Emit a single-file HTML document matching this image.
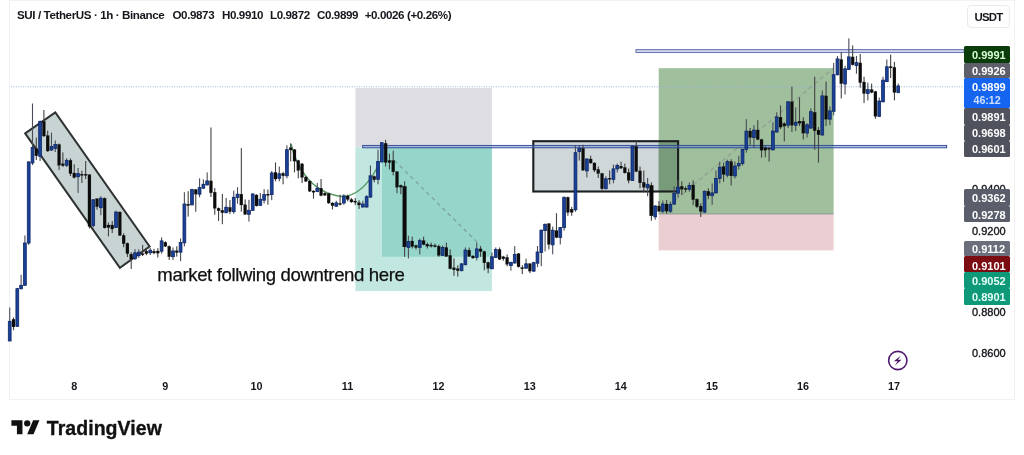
<!DOCTYPE html>
<html><head><meta charset="utf-8"><title>SUI / TetherUS</title>
<style>
html,body{margin:0;padding:0;background:#fff;}
body{width:1024px;height:455px;position:relative;overflow:hidden;font-family:"Liberation Sans",sans-serif;color:#131722;}
#frame{position:absolute;left:9.4px;top:-0.5px;width:1005.8px;height:400.2px;border:1.6px solid #f2f2f3;box-sizing:border-box;}
#chart{position:absolute;left:0;top:0;width:1024px;height:455px;}
#title{position:absolute;left:17px;top:7.2px;height:16px;line-height:16px;font-size:11.6px;letter-spacing:-0.4px;font-weight:bold;white-space:nowrap;color:#15171c;}
#title span{position:absolute;top:0;white-space:nowrap;}
.pl{position:absolute;left:964px;width:46px;box-sizing:border-box;padding-left:8px;font-size:11px;font-weight:bold;text-align:left;border-radius:1.5px;overflow:hidden;}
.pp{position:absolute;left:964px;width:46px;box-sizing:border-box;padding-left:8px;height:16px;line-height:16px;font-size:11px;text-align:left;color:#15171c;font-weight:normal;-webkit-text-stroke:0.35px #15171c;}
.dt{position:absolute;top:378px;width:40px;height:16px;line-height:16px;text-align:center;font-size:10.8px;font-weight:bold;color:#15171c;}
#usdt{position:absolute;left:967px;top:5px;width:43px;height:23px;box-sizing:border-box;border:1px solid #e9e9ee;border-radius:4px;font-size:11.4px;letter-spacing:-0.8px;font-weight:bold;text-align:center;line-height:22.4px;color:#15171c;background:#fff;}
#note{position:absolute;left:157.3px;top:263.2px;-webkit-text-stroke:0.25px #101010;font-size:18.6px;letter-spacing:-0.37px;line-height:24px;white-space:nowrap;color:#101010;}
#brand{position:absolute;left:46.8px;top:415.8px;font-size:19.5px;font-weight:bold;line-height:24px;white-space:nowrap;color:#111;letter-spacing:0.05px;-webkit-text-stroke:0.35px #111;}
#now{position:absolute;left:964px;top:78.2px;width:46px;height:30.1px;box-sizing:border-box;padding-left:8px;background:#1565f0;color:#fff;font-size:11px;font-weight:bold;text-align:left;border-radius:1.5px;}
#now div{height:14.2px;line-height:18.9px;}
#now div+div{color:#cfe0ff;font-weight:bold;font-size:10.6px;padding-left:1.5px;line-height:17.5px}
</style></head><body>
<div id="frame"></div>
<svg id="chart" width="1024" height="455" viewBox="0 0 1024 455">
<!-- short position tool -->
<rect x="355.4" y="88" width="136.5" height="59.3" fill="#dedee2"/>
<rect x="355.4" y="147.3" width="136.5" height="143.8" fill="#c2e7e0"/>
<rect x="382" y="147.3" width="109.9" height="109.5" fill="#96d6ca"/>
<!-- long position tool -->
<rect x="658.7" y="68.2" width="174.9" height="145.7" fill="#9fbf9d"/>
<rect x="658.7" y="213.9" width="174.9" height="36.5" fill="#eaced1"/>
<line x1="658.7" y1="213.9" x2="833.6" y2="213.9" stroke="#87988a" stroke-width="1"/>
<!-- dotted current price line -->
<line x1="11" y1="86.8" x2="963" y2="86.8" stroke="#9db4d8" stroke-width="1" stroke-dasharray="1 1.4"/>
<!-- channel -->
<polygon points="25.2,133.4 55.3,112.4 149.6,246.5 119.9,267.8" fill="rgba(140,162,162,0.48)" stroke="#2e3232" stroke-width="2" stroke-linejoin="miter"/>
<!-- box -->
<rect x="533.3" y="141.2" width="144.8" height="50.3" fill="rgba(140,160,165,0.42)" stroke="none"/>
<rect x="658.7" y="141.2" width="19.4" height="50.3" fill="#789c7a"/>
<rect x="533.3" y="141.2" width="144.8" height="50.3" fill="none" stroke="#1c1f1f" stroke-width="2.1"/>
<!-- dashed lines -->
<line x1="394.4" y1="160.5" x2="480" y2="245" stroke="#78a59c" stroke-width="1.3" stroke-dasharray="4 3.5"/>
<line x1="658.7" y1="213.8" x2="833.5" y2="68.2" stroke="#93a393" stroke-width="1.4" stroke-dasharray="4.5 3"/>
<!-- green arc -->
<path d="M291,144 C297,170 313,193 342,196.5 C355,196.5 368,186 378,166" fill="none" stroke="#5c9a68" stroke-width="1.5"/>
<!-- horizontal lines -->
<rect x="362.7" y="145.4" width="584" height="2.4" fill="rgba(100,130,220,0.45)" stroke="#2a4690" stroke-width="0.9"/>
<rect x="636" y="49.6" width="328" height="2.9" fill="#d3d8ee" stroke="#6c7ab4" stroke-width="1.1"/>
<rect x="9.16" y="307.5" width="1.1" height="33.5" fill="#4a4e5a"/>
<rect x="8.31" y="321.3" width="2.8" height="19.7" fill="#1a4198" stroke="#0f2766" stroke-width="0.8"/>
<rect x="12.96" y="317.4" width="1.1" height="12.8" fill="#444"/>
<rect x="12.01" y="319.3" width="3.0" height="7.6" fill="#0c0c0c" stroke="#0c0c0c" stroke-width="0.2"/>
<rect x="16.76" y="288.0" width="1.1" height="39.0" fill="#4a4e5a"/>
<rect x="15.91" y="288.7" width="2.8" height="37.6" fill="#1a4198" stroke="#0f2766" stroke-width="0.8"/>
<rect x="20.56" y="274.8" width="1.1" height="14.7" fill="#4a4e5a"/>
<rect x="19.71" y="285.3" width="2.8" height="3.4" fill="#1a4198" stroke="#0f2766" stroke-width="0.8"/>
<rect x="24.35" y="235.4" width="1.1" height="50.4" fill="#4a4e5a"/>
<rect x="23.50" y="243.0" width="2.8" height="42.3" fill="#1a4198" stroke="#0f2766" stroke-width="0.8"/>
<rect x="28.15" y="161.0" width="1.1" height="84.0" fill="#4a4e5a"/>
<rect x="27.30" y="162.0" width="2.8" height="81.0" fill="#1a4198" stroke="#0f2766" stroke-width="0.8"/>
<rect x="31.95" y="103.5" width="1.1" height="61.5" fill="#4a4e5a"/>
<rect x="31.10" y="147.5" width="2.8" height="15.5" fill="#1a4198" stroke="#0f2766" stroke-width="0.8"/>
<rect x="35.74" y="137.6" width="1.1" height="22.4" fill="#444"/>
<rect x="34.79" y="148.5" width="3.0" height="7.3" fill="#0c0c0c" stroke="#0c0c0c" stroke-width="0.2"/>
<rect x="39.54" y="120.5" width="1.1" height="40.5" fill="#4a4e5a"/>
<rect x="38.69" y="121.4" width="2.8" height="35.0" fill="#1a4198" stroke="#0f2766" stroke-width="0.8"/>
<rect x="43.34" y="110.0" width="1.1" height="27.0" fill="#444"/>
<rect x="42.39" y="121.4" width="3.0" height="14.6" fill="#0c0c0c" stroke="#0c0c0c" stroke-width="0.2"/>
<rect x="47.14" y="130.6" width="1.1" height="21.4" fill="#444"/>
<rect x="46.19" y="135.6" width="3.0" height="15.4" fill="#0c0c0c" stroke="#0c0c0c" stroke-width="0.2"/>
<rect x="50.93" y="132.6" width="1.1" height="18.4" fill="#4a4e5a"/>
<rect x="50.08" y="146.5" width="2.8" height="3.5" fill="#1a4198" stroke="#0f2766" stroke-width="0.8"/>
<rect x="54.73" y="140.5" width="1.1" height="11.5" fill="#4a4e5a"/>
<rect x="53.88" y="144.5" width="2.8" height="4.0" fill="#1a4198" stroke="#0f2766" stroke-width="0.8"/>
<rect x="58.53" y="143.5" width="1.1" height="26.5" fill="#444"/>
<rect x="57.58" y="144.5" width="3.0" height="20.8" fill="#0c0c0c" stroke="#0c0c0c" stroke-width="0.2"/>
<rect x="62.32" y="152.4" width="1.1" height="14.6" fill="#444"/>
<rect x="61.37" y="163.8" width="3.0" height="1.8" fill="#0c0c0c" stroke="#0c0c0c" stroke-width="0.2"/>
<rect x="66.12" y="158.3" width="1.1" height="8.7" fill="#4a4e5a"/>
<rect x="65.27" y="160.3" width="2.8" height="5.0" fill="#1a4198" stroke="#0f2766" stroke-width="0.8"/>
<rect x="69.92" y="158.3" width="1.1" height="17.7" fill="#444"/>
<rect x="68.97" y="160.3" width="3.0" height="13.3" fill="#0c0c0c" stroke="#0c0c0c" stroke-width="0.2"/>
<rect x="73.71" y="164.3" width="1.1" height="14.2" fill="#444"/>
<rect x="72.76" y="173.0" width="3.0" height="4.5" fill="#0c0c0c" stroke="#0c0c0c" stroke-width="0.2"/>
<rect x="77.51" y="168.0" width="1.1" height="24.9" fill="#4a4e5a"/>
<rect x="76.66" y="173.6" width="2.8" height="3.1" fill="#1a4198" stroke="#0f2766" stroke-width="0.8"/>
<rect x="81.31" y="170.8" width="1.1" height="12.2" fill="#444"/>
<rect x="80.36" y="174.2" width="3.0" height="1.2" fill="#0c0c0c" stroke="#0c0c0c" stroke-width="0.2"/>
<rect x="85.11" y="161.0" width="1.1" height="18.0" fill="#444"/>
<rect x="84.16" y="174.2" width="3.0" height="1.2" fill="#0c0c0c" stroke="#0c0c0c" stroke-width="0.2"/>
<rect x="88.90" y="174.0" width="1.1" height="54.5" fill="#444"/>
<rect x="87.95" y="174.8" width="3.0" height="51.7" fill="#0c0c0c" stroke="#0c0c0c" stroke-width="0.2"/>
<rect x="92.70" y="199.0" width="1.1" height="28.5" fill="#4a4e5a"/>
<rect x="91.85" y="199.8" width="2.8" height="25.7" fill="#1a4198" stroke="#0f2766" stroke-width="0.8"/>
<rect x="96.50" y="198.0" width="1.1" height="11.7" fill="#444"/>
<rect x="95.55" y="198.8" width="3.0" height="7.9" fill="#0c0c0c" stroke="#0c0c0c" stroke-width="0.2"/>
<rect x="100.29" y="196.2" width="1.1" height="19.0" fill="#4a4e5a"/>
<rect x="99.44" y="198.2" width="2.8" height="9.5" fill="#1a4198" stroke="#0f2766" stroke-width="0.8"/>
<rect x="104.09" y="197.5" width="1.1" height="31.0" fill="#444"/>
<rect x="103.14" y="198.2" width="3.0" height="29.7" fill="#0c0c0c" stroke="#0c0c0c" stroke-width="0.2"/>
<rect x="107.89" y="222.5" width="1.1" height="13.9" fill="#444"/>
<rect x="106.94" y="225.0" width="3.0" height="2.5" fill="#0c0c0c" stroke="#0c0c0c" stroke-width="0.2"/>
<rect x="111.68" y="221.0" width="1.1" height="12.0" fill="#444"/>
<rect x="110.73" y="225.0" width="3.0" height="4.0" fill="#0c0c0c" stroke="#0c0c0c" stroke-width="0.2"/>
<rect x="115.48" y="210.7" width="1.1" height="17.3" fill="#4a4e5a"/>
<rect x="114.63" y="212.0" width="2.8" height="15.5" fill="#1a4198" stroke="#0f2766" stroke-width="0.8"/>
<rect x="119.28" y="211.5" width="1.1" height="24.5" fill="#444"/>
<rect x="118.33" y="212.0" width="3.0" height="23.4" fill="#0c0c0c" stroke="#0c0c0c" stroke-width="0.2"/>
<rect x="123.08" y="233.4" width="1.1" height="13.8" fill="#444"/>
<rect x="122.12" y="235.4" width="3.0" height="8.3" fill="#0c0c0c" stroke="#0c0c0c" stroke-width="0.2"/>
<rect x="126.87" y="242.5" width="1.1" height="14.5" fill="#444"/>
<rect x="125.92" y="243.3" width="3.0" height="10.3" fill="#0c0c0c" stroke="#0c0c0c" stroke-width="0.2"/>
<rect x="130.67" y="252.2" width="1.1" height="16.8" fill="#444"/>
<rect x="129.72" y="254.2" width="3.0" height="4.8" fill="#0c0c0c" stroke="#0c0c0c" stroke-width="0.2"/>
<rect x="134.47" y="249.2" width="1.1" height="10.8" fill="#4a4e5a"/>
<rect x="133.62" y="252.8" width="2.8" height="5.9" fill="#1a4198" stroke="#0f2766" stroke-width="0.8"/>
<rect x="138.26" y="249.2" width="1.1" height="8.9" fill="#4a4e5a"/>
<rect x="137.41" y="252.2" width="2.8" height="3.4" fill="#1a4198" stroke="#0f2766" stroke-width="0.8"/>
<rect x="142.06" y="244.9" width="1.1" height="11.1" fill="#444"/>
<rect x="141.11" y="253.6" width="3.0" height="1.2" fill="#0c0c0c" stroke="#0c0c0c" stroke-width="0.2"/>
<rect x="145.86" y="248.2" width="1.1" height="7.0" fill="#444"/>
<rect x="144.91" y="251.2" width="3.0" height="2.4" fill="#0c0c0c" stroke="#0c0c0c" stroke-width="0.2"/>
<rect x="149.65" y="248.0" width="1.1" height="7.0" fill="#4a4e5a"/>
<rect x="148.80" y="250.2" width="2.8" height="2.6" fill="#1a4198" stroke="#0f2766" stroke-width="0.8"/>
<rect x="153.45" y="248.8" width="1.1" height="5.4" fill="#444"/>
<rect x="152.50" y="251.2" width="3.0" height="1.8" fill="#0c0c0c" stroke="#0c0c0c" stroke-width="0.2"/>
<rect x="157.25" y="248.2" width="1.1" height="9.3" fill="#444"/>
<rect x="156.30" y="251.0" width="3.0" height="2.2" fill="#0c0c0c" stroke="#0c0c0c" stroke-width="0.2"/>
<rect x="161.04" y="237.4" width="1.1" height="16.2" fill="#4a4e5a"/>
<rect x="160.19" y="240.9" width="2.8" height="10.3" fill="#1a4198" stroke="#0f2766" stroke-width="0.8"/>
<rect x="164.84" y="241.3" width="1.1" height="5.7" fill="#444"/>
<rect x="163.89" y="242.3" width="3.0" height="4.0" fill="#0c0c0c" stroke="#0c0c0c" stroke-width="0.2"/>
<rect x="168.64" y="245.5" width="1.1" height="14.5" fill="#444"/>
<rect x="167.69" y="246.3" width="3.0" height="10.4" fill="#0c0c0c" stroke="#0c0c0c" stroke-width="0.2"/>
<rect x="172.44" y="247.5" width="1.1" height="12.5" fill="#4a4e5a"/>
<rect x="171.59" y="251.0" width="2.8" height="5.7" fill="#1a4198" stroke="#0f2766" stroke-width="0.8"/>
<rect x="176.23" y="246.3" width="1.1" height="10.3" fill="#444"/>
<rect x="175.28" y="250.8" width="3.0" height="1.8" fill="#0c0c0c" stroke="#0c0c0c" stroke-width="0.2"/>
<rect x="180.03" y="238.4" width="1.1" height="22.7" fill="#4a4e5a"/>
<rect x="179.18" y="242.4" width="2.8" height="9.8" fill="#1a4198" stroke="#0f2766" stroke-width="0.8"/>
<rect x="183.83" y="192.2" width="1.1" height="54.1" fill="#4a4e5a"/>
<rect x="182.98" y="204.0" width="2.8" height="38.8" fill="#1a4198" stroke="#0f2766" stroke-width="0.8"/>
<rect x="187.62" y="191.2" width="1.1" height="25.4" fill="#444"/>
<rect x="186.67" y="204.2" width="3.0" height="1.4" fill="#0c0c0c" stroke="#0c0c0c" stroke-width="0.2"/>
<rect x="191.42" y="188.8" width="1.1" height="16.7" fill="#4a4e5a"/>
<rect x="190.57" y="189.6" width="2.8" height="15.2" fill="#1a4198" stroke="#0f2766" stroke-width="0.8"/>
<rect x="195.22" y="189.0" width="1.1" height="22.7" fill="#444"/>
<rect x="194.27" y="189.6" width="3.0" height="4.6" fill="#0c0c0c" stroke="#0c0c0c" stroke-width="0.2"/>
<rect x="199.01" y="178.3" width="1.1" height="19.0" fill="#4a4e5a"/>
<rect x="198.16" y="187.6" width="2.8" height="6.6" fill="#1a4198" stroke="#0f2766" stroke-width="0.8"/>
<rect x="202.81" y="179.3" width="1.1" height="9.7" fill="#4a4e5a"/>
<rect x="201.96" y="184.3" width="2.8" height="3.9" fill="#1a4198" stroke="#0f2766" stroke-width="0.8"/>
<rect x="206.61" y="172.4" width="1.1" height="13.1" fill="#4a4e5a"/>
<rect x="205.76" y="180.9" width="2.8" height="4.0" fill="#1a4198" stroke="#0f2766" stroke-width="0.8"/>
<rect x="210.41" y="127.5" width="1.1" height="69.5" fill="#444"/>
<rect x="209.46" y="180.9" width="3.0" height="11.9" fill="#0c0c0c" stroke="#0c0c0c" stroke-width="0.2"/>
<rect x="214.20" y="188.0" width="1.1" height="26.7" fill="#444"/>
<rect x="213.25" y="192.2" width="3.0" height="16.1" fill="#0c0c0c" stroke="#0c0c0c" stroke-width="0.2"/>
<rect x="218.00" y="207.5" width="1.1" height="13.5" fill="#444"/>
<rect x="217.05" y="208.3" width="3.0" height="2.4" fill="#0c0c0c" stroke="#0c0c0c" stroke-width="0.2"/>
<rect x="221.80" y="193.9" width="1.1" height="30.3" fill="#444"/>
<rect x="220.85" y="210.3" width="3.0" height="2.4" fill="#0c0c0c" stroke="#0c0c0c" stroke-width="0.2"/>
<rect x="225.59" y="197.9" width="1.1" height="15.4" fill="#4a4e5a"/>
<rect x="224.74" y="207.2" width="2.8" height="5.5" fill="#1a4198" stroke="#0f2766" stroke-width="0.8"/>
<rect x="229.39" y="200.0" width="1.1" height="14.0" fill="#444"/>
<rect x="228.44" y="207.3" width="3.0" height="4.4" fill="#0c0c0c" stroke="#0c0c0c" stroke-width="0.2"/>
<rect x="233.19" y="190.6" width="1.1" height="23.1" fill="#4a4e5a"/>
<rect x="232.34" y="197.3" width="2.8" height="14.4" fill="#1a4198" stroke="#0f2766" stroke-width="0.8"/>
<rect x="236.98" y="187.2" width="1.1" height="16.6" fill="#4a4e5a"/>
<rect x="236.13" y="194.2" width="2.8" height="3.3" fill="#1a4198" stroke="#0f2766" stroke-width="0.8"/>
<rect x="240.78" y="148.1" width="1.1" height="63.6" fill="#444"/>
<rect x="239.83" y="194.2" width="3.0" height="10.8" fill="#0c0c0c" stroke="#0c0c0c" stroke-width="0.2"/>
<rect x="244.58" y="199.4" width="1.1" height="15.6" fill="#444"/>
<rect x="243.63" y="204.8" width="3.0" height="9.5" fill="#0c0c0c" stroke="#0c0c0c" stroke-width="0.2"/>
<rect x="248.38" y="199.8" width="1.1" height="21.8" fill="#4a4e5a"/>
<rect x="247.53" y="210.3" width="2.8" height="4.0" fill="#1a4198" stroke="#0f2766" stroke-width="0.8"/>
<rect x="252.17" y="193.3" width="1.1" height="17.7" fill="#4a4e5a"/>
<rect x="251.32" y="194.0" width="2.8" height="16.3" fill="#1a4198" stroke="#0f2766" stroke-width="0.8"/>
<rect x="255.97" y="194.2" width="1.1" height="12.3" fill="#444"/>
<rect x="255.02" y="195.0" width="3.0" height="10.9" fill="#0c0c0c" stroke="#0c0c0c" stroke-width="0.2"/>
<rect x="259.77" y="193.0" width="1.1" height="13.0" fill="#4a4e5a"/>
<rect x="258.92" y="199.3" width="2.8" height="6.0" fill="#1a4198" stroke="#0f2766" stroke-width="0.8"/>
<rect x="263.56" y="189.1" width="1.1" height="14.3" fill="#4a4e5a"/>
<rect x="262.71" y="194.6" width="2.8" height="5.6" fill="#1a4198" stroke="#0f2766" stroke-width="0.8"/>
<rect x="267.36" y="189.5" width="1.1" height="15.2" fill="#444"/>
<rect x="266.41" y="194.1" width="3.0" height="1.3" fill="#0c0c0c" stroke="#0c0c0c" stroke-width="0.2"/>
<rect x="271.16" y="171.0" width="1.1" height="29.2" fill="#4a4e5a"/>
<rect x="270.31" y="173.0" width="2.8" height="21.6" fill="#1a4198" stroke="#0f2766" stroke-width="0.8"/>
<rect x="274.95" y="162.5" width="1.1" height="18.8" fill="#444"/>
<rect x="274.00" y="172.4" width="3.0" height="6.6" fill="#0c0c0c" stroke="#0c0c0c" stroke-width="0.2"/>
<rect x="278.75" y="166.5" width="1.1" height="14.8" fill="#4a4e5a"/>
<rect x="277.90" y="173.8" width="2.8" height="4.5" fill="#1a4198" stroke="#0f2766" stroke-width="0.8"/>
<rect x="282.55" y="171.8" width="1.1" height="12.5" fill="#444"/>
<rect x="281.60" y="173.4" width="3.0" height="2.4" fill="#0c0c0c" stroke="#0c0c0c" stroke-width="0.2"/>
<rect x="286.35" y="145.3" width="1.1" height="33.0" fill="#4a4e5a"/>
<rect x="285.50" y="149.7" width="2.8" height="26.1" fill="#1a4198" stroke="#0f2766" stroke-width="0.8"/>
<rect x="290.14" y="143.3" width="1.1" height="18.2" fill="#444"/>
<rect x="289.19" y="147.7" width="3.0" height="2.3" fill="#0c0c0c" stroke="#0c0c0c" stroke-width="0.2"/>
<rect x="293.94" y="149.0" width="1.1" height="23.4" fill="#444"/>
<rect x="292.99" y="149.7" width="3.0" height="11.4" fill="#0c0c0c" stroke="#0c0c0c" stroke-width="0.2"/>
<rect x="297.74" y="159.8" width="1.1" height="18.5" fill="#444"/>
<rect x="296.79" y="160.5" width="3.0" height="9.9" fill="#0c0c0c" stroke="#0c0c0c" stroke-width="0.2"/>
<rect x="301.53" y="163.0" width="1.1" height="20.0" fill="#444"/>
<rect x="300.58" y="163.9" width="3.0" height="13.5" fill="#0c0c0c" stroke="#0c0c0c" stroke-width="0.2"/>
<rect x="305.33" y="176.2" width="1.1" height="5.8" fill="#444"/>
<rect x="304.38" y="177.0" width="3.0" height="4.3" fill="#0c0c0c" stroke="#0c0c0c" stroke-width="0.2"/>
<rect x="309.13" y="180.3" width="1.1" height="11.7" fill="#444"/>
<rect x="308.18" y="181.0" width="3.0" height="10.2" fill="#0c0c0c" stroke="#0c0c0c" stroke-width="0.2"/>
<rect x="312.93" y="190.2" width="1.1" height="8.5" fill="#444"/>
<rect x="311.98" y="191.0" width="3.0" height="1.3" fill="#0c0c0c" stroke="#0c0c0c" stroke-width="0.2"/>
<rect x="316.72" y="183.0" width="1.1" height="9.2" fill="#4a4e5a"/>
<rect x="315.87" y="188.2" width="2.8" height="3.4" fill="#1a4198" stroke="#0f2766" stroke-width="0.8"/>
<rect x="320.52" y="179.0" width="1.1" height="17.3" fill="#444"/>
<rect x="319.57" y="188.2" width="3.0" height="7.4" fill="#0c0c0c" stroke="#0c0c0c" stroke-width="0.2"/>
<rect x="324.32" y="192.2" width="1.1" height="3.8" fill="#444"/>
<rect x="323.37" y="193.2" width="3.0" height="2.0" fill="#0c0c0c" stroke="#0c0c0c" stroke-width="0.2"/>
<rect x="328.11" y="192.8" width="1.1" height="11.0" fill="#444"/>
<rect x="327.16" y="193.6" width="3.0" height="9.4" fill="#0c0c0c" stroke="#0c0c0c" stroke-width="0.2"/>
<rect x="331.91" y="202.2" width="1.1" height="7.2" fill="#444"/>
<rect x="330.96" y="203.0" width="3.0" height="2.6" fill="#0c0c0c" stroke="#0c0c0c" stroke-width="0.2"/>
<rect x="335.71" y="200.7" width="1.1" height="6.3" fill="#4a4e5a"/>
<rect x="334.86" y="202.9" width="2.8" height="3.3" fill="#1a4198" stroke="#0f2766" stroke-width="0.8"/>
<rect x="339.50" y="194.8" width="1.1" height="10.6" fill="#444"/>
<rect x="338.55" y="203.4" width="3.0" height="1.2" fill="#0c0c0c" stroke="#0c0c0c" stroke-width="0.2"/>
<rect x="343.30" y="194.2" width="1.1" height="10.5" fill="#4a4e5a"/>
<rect x="342.45" y="196.0" width="2.8" height="7.0" fill="#1a4198" stroke="#0f2766" stroke-width="0.8"/>
<rect x="347.10" y="194.8" width="1.1" height="6.5" fill="#444"/>
<rect x="346.15" y="196.0" width="3.0" height="3.4" fill="#0c0c0c" stroke="#0c0c0c" stroke-width="0.2"/>
<rect x="350.89" y="198.1" width="1.1" height="4.7" fill="#444"/>
<rect x="349.94" y="199.5" width="3.0" height="2.5" fill="#0c0c0c" stroke="#0c0c0c" stroke-width="0.2"/>
<rect x="354.69" y="198.0" width="1.1" height="7.0" fill="#444"/>
<rect x="353.74" y="201.0" width="3.0" height="1.2" fill="#0c0c0c" stroke="#0c0c0c" stroke-width="0.2"/>
<rect x="358.49" y="200.1" width="1.1" height="8.9" fill="#444"/>
<rect x="357.54" y="202.7" width="3.0" height="2.3" fill="#0c0c0c" stroke="#0c0c0c" stroke-width="0.2"/>
<rect x="362.29" y="200.7" width="1.1" height="6.9" fill="#4a4e5a"/>
<rect x="361.44" y="204.0" width="2.8" height="3.0" fill="#1a4198" stroke="#0f2766" stroke-width="0.8"/>
<rect x="366.08" y="195.2" width="1.1" height="12.4" fill="#4a4e5a"/>
<rect x="365.23" y="196.7" width="2.8" height="10.3" fill="#1a4198" stroke="#0f2766" stroke-width="0.8"/>
<rect x="369.88" y="165.5" width="1.1" height="32.3" fill="#4a4e5a"/>
<rect x="369.03" y="175.8" width="2.8" height="21.3" fill="#1a4198" stroke="#0f2766" stroke-width="0.8"/>
<rect x="373.68" y="175.6" width="1.1" height="6.7" fill="#444"/>
<rect x="372.73" y="176.4" width="3.0" height="3.3" fill="#0c0c0c" stroke="#0c0c0c" stroke-width="0.2"/>
<rect x="377.47" y="149.7" width="1.1" height="34.6" fill="#4a4e5a"/>
<rect x="376.62" y="161.5" width="2.8" height="17.8" fill="#1a4198" stroke="#0f2766" stroke-width="0.8"/>
<rect x="381.27" y="142.0" width="1.1" height="20.5" fill="#4a4e5a"/>
<rect x="380.42" y="142.7" width="2.8" height="19.2" fill="#1a4198" stroke="#0f2766" stroke-width="0.8"/>
<rect x="385.07" y="139.8" width="1.1" height="26.7" fill="#444"/>
<rect x="384.12" y="143.3" width="3.0" height="19.2" fill="#0c0c0c" stroke="#0c0c0c" stroke-width="0.2"/>
<rect x="388.87" y="153.6" width="1.1" height="15.8" fill="#444"/>
<rect x="387.92" y="160.5" width="3.0" height="2.0" fill="#0c0c0c" stroke="#0c0c0c" stroke-width="0.2"/>
<rect x="392.66" y="150.7" width="1.1" height="24.7" fill="#444"/>
<rect x="391.71" y="160.5" width="3.0" height="11.3" fill="#0c0c0c" stroke="#0c0c0c" stroke-width="0.2"/>
<rect x="396.46" y="171.0" width="1.1" height="22.2" fill="#444"/>
<rect x="395.51" y="171.8" width="3.0" height="15.4" fill="#0c0c0c" stroke="#0c0c0c" stroke-width="0.2"/>
<rect x="400.26" y="184.5" width="1.1" height="9.7" fill="#444"/>
<rect x="399.31" y="185.3" width="3.0" height="1.9" fill="#0c0c0c" stroke="#0c0c0c" stroke-width="0.2"/>
<rect x="404.05" y="181.3" width="1.1" height="75.5" fill="#444"/>
<rect x="402.70" y="186.3" width="3.8" height="60.6" fill="#0c0c0c" stroke="#0c0c0c" stroke-width="0.2"/>
<rect x="407.85" y="235.7" width="1.1" height="22.7" fill="#4a4e5a"/>
<rect x="407.00" y="241.6" width="2.8" height="5.9" fill="#1a4198" stroke="#0f2766" stroke-width="0.8"/>
<rect x="411.65" y="236.6" width="1.1" height="11.9" fill="#444"/>
<rect x="410.70" y="241.0" width="3.0" height="5.5" fill="#0c0c0c" stroke="#0c0c0c" stroke-width="0.2"/>
<rect x="415.44" y="244.5" width="1.1" height="5.0" fill="#444"/>
<rect x="414.49" y="245.5" width="3.0" height="2.0" fill="#0c0c0c" stroke="#0c0c0c" stroke-width="0.2"/>
<rect x="419.24" y="238.6" width="1.1" height="15.8" fill="#4a4e5a"/>
<rect x="418.39" y="240.6" width="2.8" height="6.9" fill="#1a4198" stroke="#0f2766" stroke-width="0.8"/>
<rect x="423.04" y="236.6" width="1.1" height="8.6" fill="#444"/>
<rect x="422.09" y="240.6" width="3.0" height="4.0" fill="#0c0c0c" stroke="#0c0c0c" stroke-width="0.2"/>
<rect x="426.83" y="242.6" width="1.1" height="5.9" fill="#444"/>
<rect x="425.88" y="244.2" width="3.0" height="1.9" fill="#0c0c0c" stroke="#0c0c0c" stroke-width="0.2"/>
<rect x="430.63" y="242.6" width="1.1" height="4.9" fill="#444"/>
<rect x="429.68" y="245.0" width="3.0" height="1.2" fill="#0c0c0c" stroke="#0c0c0c" stroke-width="0.2"/>
<rect x="434.43" y="243.6" width="1.1" height="3.9" fill="#444"/>
<rect x="433.48" y="245.5" width="3.0" height="1.2" fill="#0c0c0c" stroke="#0c0c0c" stroke-width="0.2"/>
<rect x="438.23" y="244.6" width="1.1" height="12.2" fill="#444"/>
<rect x="437.28" y="246.1" width="3.0" height="9.3" fill="#0c0c0c" stroke="#0c0c0c" stroke-width="0.2"/>
<rect x="442.02" y="245.5" width="1.1" height="10.5" fill="#4a4e5a"/>
<rect x="441.17" y="247.5" width="2.8" height="7.9" fill="#1a4198" stroke="#0f2766" stroke-width="0.8"/>
<rect x="445.82" y="242.6" width="1.1" height="14.4" fill="#444"/>
<rect x="444.87" y="247.5" width="3.0" height="8.9" fill="#0c0c0c" stroke="#0c0c0c" stroke-width="0.2"/>
<rect x="449.62" y="249.5" width="1.1" height="19.9" fill="#444"/>
<rect x="448.67" y="255.4" width="3.0" height="13.3" fill="#0c0c0c" stroke="#0c0c0c" stroke-width="0.2"/>
<rect x="453.41" y="258.4" width="1.1" height="17.4" fill="#444"/>
<rect x="452.46" y="267.9" width="3.0" height="2.0" fill="#0c0c0c" stroke="#0c0c0c" stroke-width="0.2"/>
<rect x="457.21" y="265.3" width="1.1" height="11.3" fill="#444"/>
<rect x="456.26" y="268.7" width="3.0" height="2.0" fill="#0c0c0c" stroke="#0c0c0c" stroke-width="0.2"/>
<rect x="461.01" y="263.0" width="1.1" height="8.3" fill="#4a4e5a"/>
<rect x="460.16" y="263.9" width="2.8" height="6.8" fill="#1a4198" stroke="#0f2766" stroke-width="0.8"/>
<rect x="464.81" y="247.5" width="1.1" height="17.8" fill="#4a4e5a"/>
<rect x="463.96" y="250.1" width="2.8" height="14.6" fill="#1a4198" stroke="#0f2766" stroke-width="0.8"/>
<rect x="468.60" y="247.5" width="1.1" height="9.5" fill="#444"/>
<rect x="467.65" y="250.1" width="3.0" height="6.3" fill="#0c0c0c" stroke="#0c0c0c" stroke-width="0.2"/>
<rect x="472.40" y="255.2" width="1.1" height="3.6" fill="#444"/>
<rect x="471.45" y="256.0" width="3.0" height="2.0" fill="#0c0c0c" stroke="#0c0c0c" stroke-width="0.2"/>
<rect x="476.20" y="242.6" width="1.1" height="17.8" fill="#4a4e5a"/>
<rect x="475.35" y="248.9" width="2.8" height="8.5" fill="#1a4198" stroke="#0f2766" stroke-width="0.8"/>
<rect x="479.99" y="246.1" width="1.1" height="10.7" fill="#444"/>
<rect x="479.04" y="248.9" width="3.0" height="2.6" fill="#0c0c0c" stroke="#0c0c0c" stroke-width="0.2"/>
<rect x="483.79" y="250.8" width="1.1" height="19.5" fill="#444"/>
<rect x="482.84" y="251.5" width="3.0" height="11.3" fill="#0c0c0c" stroke="#0c0c0c" stroke-width="0.2"/>
<rect x="487.59" y="261.6" width="1.1" height="11.6" fill="#444"/>
<rect x="486.64" y="262.4" width="3.0" height="5.9" fill="#0c0c0c" stroke="#0c0c0c" stroke-width="0.2"/>
<rect x="491.38" y="252.5" width="1.1" height="16.8" fill="#4a4e5a"/>
<rect x="490.53" y="256.8" width="2.8" height="11.9" fill="#1a4198" stroke="#0f2766" stroke-width="0.8"/>
<rect x="495.18" y="247.5" width="1.1" height="10.5" fill="#4a4e5a"/>
<rect x="494.33" y="249.5" width="2.8" height="7.9" fill="#1a4198" stroke="#0f2766" stroke-width="0.8"/>
<rect x="498.98" y="247.5" width="1.1" height="12.5" fill="#444"/>
<rect x="498.03" y="249.5" width="3.0" height="9.9" fill="#0c0c0c" stroke="#0c0c0c" stroke-width="0.2"/>
<rect x="502.77" y="255.8" width="1.1" height="5.0" fill="#444"/>
<rect x="501.82" y="256.8" width="3.0" height="2.0" fill="#0c0c0c" stroke="#0c0c0c" stroke-width="0.2"/>
<rect x="506.57" y="254.4" width="1.1" height="11.9" fill="#444"/>
<rect x="505.62" y="257.4" width="3.0" height="6.9" fill="#0c0c0c" stroke="#0c0c0c" stroke-width="0.2"/>
<rect x="510.37" y="261.6" width="1.1" height="9.1" fill="#4a4e5a"/>
<rect x="509.52" y="262.4" width="2.8" height="3.2" fill="#1a4198" stroke="#0f2766" stroke-width="0.8"/>
<rect x="514.17" y="246.1" width="1.1" height="17.5" fill="#4a4e5a"/>
<rect x="513.32" y="254.4" width="2.8" height="8.6" fill="#1a4198" stroke="#0f2766" stroke-width="0.8"/>
<rect x="517.96" y="253.0" width="1.1" height="14.5" fill="#444"/>
<rect x="517.01" y="253.7" width="3.0" height="13.1" fill="#0c0c0c" stroke="#0c0c0c" stroke-width="0.2"/>
<rect x="521.76" y="265.2" width="1.1" height="8.9" fill="#444"/>
<rect x="520.81" y="267.6" width="3.0" height="1.2" fill="#0c0c0c" stroke="#0c0c0c" stroke-width="0.2"/>
<rect x="525.56" y="258.7" width="1.1" height="10.3" fill="#4a4e5a"/>
<rect x="524.71" y="263.8" width="2.8" height="4.4" fill="#1a4198" stroke="#0f2766" stroke-width="0.8"/>
<rect x="529.35" y="263.0" width="1.1" height="10.1" fill="#444"/>
<rect x="528.40" y="263.8" width="3.0" height="7.3" fill="#0c0c0c" stroke="#0c0c0c" stroke-width="0.2"/>
<rect x="533.15" y="261.8" width="1.1" height="10.2" fill="#4a4e5a"/>
<rect x="532.30" y="262.6" width="2.8" height="8.5" fill="#1a4198" stroke="#0f2766" stroke-width="0.8"/>
<rect x="536.95" y="246.0" width="1.1" height="21.2" fill="#4a4e5a"/>
<rect x="536.10" y="252.0" width="2.8" height="11.2" fill="#1a4198" stroke="#0f2766" stroke-width="0.8"/>
<rect x="540.75" y="229.5" width="1.1" height="36.7" fill="#4a4e5a"/>
<rect x="539.90" y="230.2" width="2.8" height="22.2" fill="#1a4198" stroke="#0f2766" stroke-width="0.8"/>
<rect x="544.54" y="223.5" width="1.1" height="27.9" fill="#4a4e5a"/>
<rect x="543.69" y="224.3" width="2.8" height="6.3" fill="#1a4198" stroke="#0f2766" stroke-width="0.8"/>
<rect x="548.34" y="223.0" width="1.1" height="26.4" fill="#444"/>
<rect x="547.39" y="223.7" width="3.0" height="20.7" fill="#0c0c0c" stroke="#0c0c0c" stroke-width="0.2"/>
<rect x="552.14" y="226.6" width="1.1" height="27.7" fill="#4a4e5a"/>
<rect x="551.29" y="230.2" width="2.8" height="14.6" fill="#1a4198" stroke="#0f2766" stroke-width="0.8"/>
<rect x="555.93" y="213.2" width="1.1" height="25.0" fill="#444"/>
<rect x="554.98" y="230.6" width="3.0" height="6.9" fill="#0c0c0c" stroke="#0c0c0c" stroke-width="0.2"/>
<rect x="559.73" y="227.0" width="1.1" height="17.4" fill="#4a4e5a"/>
<rect x="558.88" y="227.6" width="2.8" height="9.9" fill="#1a4198" stroke="#0f2766" stroke-width="0.8"/>
<rect x="563.53" y="196.5" width="1.1" height="34.1" fill="#4a4e5a"/>
<rect x="562.68" y="197.3" width="2.8" height="30.3" fill="#1a4198" stroke="#0f2766" stroke-width="0.8"/>
<rect x="567.32" y="196.5" width="1.1" height="19.3" fill="#444"/>
<rect x="566.37" y="197.3" width="3.0" height="15.1" fill="#0c0c0c" stroke="#0c0c0c" stroke-width="0.2"/>
<rect x="571.12" y="206.9" width="1.1" height="8.9" fill="#444"/>
<rect x="570.17" y="209.2" width="3.0" height="3.2" fill="#0c0c0c" stroke="#0c0c0c" stroke-width="0.2"/>
<rect x="574.92" y="145.8" width="1.1" height="66.0" fill="#4a4e5a"/>
<rect x="574.07" y="152.7" width="2.8" height="57.1" fill="#1a4198" stroke="#0f2766" stroke-width="0.8"/>
<rect x="578.72" y="145.8" width="1.1" height="14.8" fill="#4a4e5a"/>
<rect x="577.87" y="148.3" width="2.8" height="3.4" fill="#1a4198" stroke="#0f2766" stroke-width="0.8"/>
<rect x="582.51" y="144.8" width="1.1" height="26.2" fill="#444"/>
<rect x="581.56" y="148.3" width="3.0" height="21.8" fill="#0c0c0c" stroke="#0c0c0c" stroke-width="0.2"/>
<rect x="586.31" y="158.2" width="1.1" height="19.2" fill="#4a4e5a"/>
<rect x="585.46" y="159.0" width="2.8" height="11.9" fill="#1a4198" stroke="#0f2766" stroke-width="0.8"/>
<rect x="590.11" y="155.7" width="1.1" height="8.1" fill="#444"/>
<rect x="589.16" y="159.0" width="3.0" height="4.0" fill="#0c0c0c" stroke="#0c0c0c" stroke-width="0.2"/>
<rect x="593.90" y="162.2" width="1.1" height="9.9" fill="#444"/>
<rect x="592.95" y="163.0" width="3.0" height="7.1" fill="#0c0c0c" stroke="#0c0c0c" stroke-width="0.2"/>
<rect x="597.70" y="166.5" width="1.1" height="11.5" fill="#444"/>
<rect x="596.75" y="169.5" width="3.0" height="4.0" fill="#0c0c0c" stroke="#0c0c0c" stroke-width="0.2"/>
<rect x="601.50" y="172.8" width="1.1" height="17.5" fill="#444"/>
<rect x="600.55" y="173.5" width="3.0" height="15.2" fill="#0c0c0c" stroke="#0c0c0c" stroke-width="0.2"/>
<rect x="605.29" y="176.4" width="1.1" height="12.9" fill="#4a4e5a"/>
<rect x="604.44" y="178.8" width="2.8" height="9.9" fill="#1a4198" stroke="#0f2766" stroke-width="0.8"/>
<rect x="609.09" y="170.5" width="1.1" height="13.8" fill="#444"/>
<rect x="608.14" y="178.2" width="3.0" height="1.2" fill="#0c0c0c" stroke="#0c0c0c" stroke-width="0.2"/>
<rect x="612.89" y="164.6" width="1.1" height="18.7" fill="#4a4e5a"/>
<rect x="612.04" y="168.9" width="2.8" height="10.5" fill="#1a4198" stroke="#0f2766" stroke-width="0.8"/>
<rect x="616.69" y="163.6" width="1.1" height="8.9" fill="#4a4e5a"/>
<rect x="615.84" y="165.5" width="2.8" height="3.4" fill="#1a4198" stroke="#0f2766" stroke-width="0.8"/>
<rect x="620.48" y="161.6" width="1.1" height="7.4" fill="#444"/>
<rect x="619.53" y="166.1" width="3.0" height="2.0" fill="#0c0c0c" stroke="#0c0c0c" stroke-width="0.2"/>
<rect x="624.28" y="163.6" width="1.1" height="10.0" fill="#444"/>
<rect x="623.33" y="167.5" width="3.0" height="5.4" fill="#0c0c0c" stroke="#0c0c0c" stroke-width="0.2"/>
<rect x="628.08" y="168.5" width="1.1" height="14.8" fill="#444"/>
<rect x="627.13" y="172.5" width="3.0" height="7.9" fill="#0c0c0c" stroke="#0c0c0c" stroke-width="0.2"/>
<rect x="631.87" y="145.6" width="1.1" height="35.4" fill="#4a4e5a"/>
<rect x="631.02" y="146.4" width="2.8" height="34.0" fill="#1a4198" stroke="#0f2766" stroke-width="0.8"/>
<rect x="635.67" y="140.8" width="1.1" height="31.4" fill="#444"/>
<rect x="634.72" y="146.4" width="3.0" height="25.1" fill="#0c0c0c" stroke="#0c0c0c" stroke-width="0.2"/>
<rect x="639.47" y="166.5" width="1.1" height="21.8" fill="#444"/>
<rect x="638.52" y="170.9" width="3.0" height="11.9" fill="#0c0c0c" stroke="#0c0c0c" stroke-width="0.2"/>
<rect x="643.26" y="170.5" width="1.1" height="21.7" fill="#444"/>
<rect x="642.31" y="182.4" width="3.0" height="4.9" fill="#0c0c0c" stroke="#0c0c0c" stroke-width="0.2"/>
<rect x="647.06" y="178.0" width="1.1" height="18.2" fill="#4a4e5a"/>
<rect x="646.21" y="184.3" width="2.8" height="3.6" fill="#1a4198" stroke="#0f2766" stroke-width="0.8"/>
<rect x="650.86" y="182.4" width="1.1" height="38.3" fill="#444"/>
<rect x="649.51" y="185.3" width="3.8" height="30.5" fill="#0c0c0c" stroke="#0c0c0c" stroke-width="0.2"/>
<rect x="654.66" y="205.2" width="1.1" height="14.5" fill="#4a4e5a"/>
<rect x="653.81" y="206.0" width="2.8" height="10.8" fill="#1a4198" stroke="#0f2766" stroke-width="0.8"/>
<rect x="658.45" y="201.0" width="1.1" height="11.0" fill="#444"/>
<rect x="657.50" y="206.0" width="3.0" height="5.2" fill="#0c0c0c" stroke="#0c0c0c" stroke-width="0.2"/>
<rect x="662.25" y="200.5" width="1.1" height="12.7" fill="#4a4e5a"/>
<rect x="661.40" y="204.0" width="2.8" height="7.2" fill="#1a4198" stroke="#0f2766" stroke-width="0.8"/>
<rect x="666.05" y="200.0" width="1.1" height="13.8" fill="#444"/>
<rect x="665.10" y="204.0" width="3.0" height="7.2" fill="#0c0c0c" stroke="#0c0c0c" stroke-width="0.2"/>
<rect x="669.84" y="201.5" width="1.1" height="11.5" fill="#4a4e5a"/>
<rect x="668.99" y="204.5" width="2.8" height="6.7" fill="#1a4198" stroke="#0f2766" stroke-width="0.8"/>
<rect x="673.64" y="186.3" width="1.1" height="18.5" fill="#4a4e5a"/>
<rect x="672.79" y="193.2" width="2.8" height="10.9" fill="#1a4198" stroke="#0f2766" stroke-width="0.8"/>
<rect x="677.44" y="180.4" width="1.1" height="16.8" fill="#4a4e5a"/>
<rect x="676.59" y="187.3" width="2.8" height="5.9" fill="#1a4198" stroke="#0f2766" stroke-width="0.8"/>
<rect x="681.23" y="181.4" width="1.1" height="13.6" fill="#444"/>
<rect x="680.28" y="186.4" width="3.0" height="2.9" fill="#0c0c0c" stroke="#0c0c0c" stroke-width="0.2"/>
<rect x="685.03" y="186.4" width="1.1" height="5.9" fill="#444"/>
<rect x="684.08" y="188.4" width="3.0" height="1.2" fill="#0c0c0c" stroke="#0c0c0c" stroke-width="0.2"/>
<rect x="688.83" y="182.4" width="1.1" height="9.3" fill="#4a4e5a"/>
<rect x="687.98" y="185.4" width="2.8" height="3.9" fill="#1a4198" stroke="#0f2766" stroke-width="0.8"/>
<rect x="692.63" y="180.4" width="1.1" height="24.8" fill="#444"/>
<rect x="691.68" y="185.0" width="3.0" height="14.6" fill="#0c0c0c" stroke="#0c0c0c" stroke-width="0.2"/>
<rect x="696.42" y="198.4" width="1.1" height="9.7" fill="#444"/>
<rect x="695.47" y="199.2" width="3.0" height="7.5" fill="#0c0c0c" stroke="#0c0c0c" stroke-width="0.2"/>
<rect x="700.22" y="203.2" width="1.1" height="13.8" fill="#444"/>
<rect x="699.27" y="206.1" width="3.0" height="5.4" fill="#0c0c0c" stroke="#0c0c0c" stroke-width="0.2"/>
<rect x="704.02" y="190.5" width="1.1" height="22.6" fill="#4a4e5a"/>
<rect x="703.17" y="191.3" width="2.8" height="20.8" fill="#1a4198" stroke="#0f2766" stroke-width="0.8"/>
<rect x="707.81" y="188.3" width="1.1" height="10.9" fill="#444"/>
<rect x="706.86" y="191.3" width="3.0" height="4.4" fill="#0c0c0c" stroke="#0c0c0c" stroke-width="0.2"/>
<rect x="711.61" y="183.4" width="1.1" height="21.4" fill="#4a4e5a"/>
<rect x="710.76" y="192.9" width="2.8" height="2.8" fill="#1a4198" stroke="#0f2766" stroke-width="0.8"/>
<rect x="715.41" y="170.5" width="1.1" height="23.0" fill="#4a4e5a"/>
<rect x="714.56" y="178.5" width="2.8" height="14.4" fill="#1a4198" stroke="#0f2766" stroke-width="0.8"/>
<rect x="719.20" y="161.6" width="1.1" height="21.8" fill="#4a4e5a"/>
<rect x="718.35" y="167.2" width="2.8" height="11.3" fill="#1a4198" stroke="#0f2766" stroke-width="0.8"/>
<rect x="723.00" y="162.6" width="1.1" height="19.2" fill="#444"/>
<rect x="722.05" y="166.6" width="3.0" height="7.9" fill="#0c0c0c" stroke="#0c0c0c" stroke-width="0.2"/>
<rect x="726.80" y="159.7" width="1.1" height="17.8" fill="#4a4e5a"/>
<rect x="725.95" y="161.6" width="2.8" height="13.5" fill="#1a4198" stroke="#0f2766" stroke-width="0.8"/>
<rect x="730.60" y="159.3" width="1.1" height="26.1" fill="#444"/>
<rect x="729.65" y="161.6" width="3.0" height="14.3" fill="#0c0c0c" stroke="#0c0c0c" stroke-width="0.2"/>
<rect x="734.39" y="161.6" width="1.1" height="16.9" fill="#4a4e5a"/>
<rect x="733.54" y="166.0" width="2.8" height="9.9" fill="#1a4198" stroke="#0f2766" stroke-width="0.8"/>
<rect x="738.19" y="155.7" width="1.1" height="13.9" fill="#4a4e5a"/>
<rect x="737.34" y="163.4" width="2.8" height="2.4" fill="#1a4198" stroke="#0f2766" stroke-width="0.8"/>
<rect x="741.99" y="148.6" width="1.1" height="17.0" fill="#4a4e5a"/>
<rect x="741.14" y="149.4" width="2.8" height="14.2" fill="#1a4198" stroke="#0f2766" stroke-width="0.8"/>
<rect x="745.78" y="119.2" width="1.1" height="33.5" fill="#4a4e5a"/>
<rect x="744.93" y="131.1" width="2.8" height="18.3" fill="#1a4198" stroke="#0f2766" stroke-width="0.8"/>
<rect x="749.58" y="128.0" width="1.1" height="16.8" fill="#444"/>
<rect x="748.63" y="131.0" width="3.0" height="6.5" fill="#0c0c0c" stroke="#0c0c0c" stroke-width="0.2"/>
<rect x="753.38" y="125.2" width="1.1" height="22.6" fill="#4a4e5a"/>
<rect x="752.53" y="130.1" width="2.8" height="7.4" fill="#1a4198" stroke="#0f2766" stroke-width="0.8"/>
<rect x="757.17" y="120.2" width="1.1" height="20.0" fill="#444"/>
<rect x="756.22" y="130.0" width="3.0" height="9.5" fill="#0c0c0c" stroke="#0c0c0c" stroke-width="0.2"/>
<rect x="760.97" y="138.8" width="1.1" height="18.9" fill="#444"/>
<rect x="760.02" y="139.5" width="3.0" height="10.7" fill="#0c0c0c" stroke="#0c0c0c" stroke-width="0.2"/>
<rect x="764.77" y="145.8" width="1.1" height="11.5" fill="#444"/>
<rect x="763.82" y="147.8" width="3.0" height="2.4" fill="#0c0c0c" stroke="#0c0c0c" stroke-width="0.2"/>
<rect x="768.57" y="146.8" width="1.1" height="14.8" fill="#444"/>
<rect x="767.62" y="148.2" width="3.0" height="1.2" fill="#0c0c0c" stroke="#0c0c0c" stroke-width="0.2"/>
<rect x="772.36" y="122.2" width="1.1" height="28.3" fill="#4a4e5a"/>
<rect x="771.51" y="131.1" width="2.8" height="18.7" fill="#1a4198" stroke="#0f2766" stroke-width="0.8"/>
<rect x="776.16" y="112.3" width="1.1" height="20.3" fill="#4a4e5a"/>
<rect x="775.31" y="116.9" width="2.8" height="15.1" fill="#1a4198" stroke="#0f2766" stroke-width="0.8"/>
<rect x="779.96" y="105.4" width="1.1" height="23.7" fill="#444"/>
<rect x="779.01" y="117.2" width="3.0" height="9.9" fill="#0c0c0c" stroke="#0c0c0c" stroke-width="0.2"/>
<rect x="783.75" y="122.2" width="1.1" height="19.3" fill="#444"/>
<rect x="782.80" y="123.6" width="3.0" height="2.5" fill="#0c0c0c" stroke="#0c0c0c" stroke-width="0.2"/>
<rect x="787.55" y="101.0" width="1.1" height="27.1" fill="#4a4e5a"/>
<rect x="786.70" y="101.8" width="2.8" height="23.4" fill="#1a4198" stroke="#0f2766" stroke-width="0.8"/>
<rect x="791.35" y="86.6" width="1.1" height="45.4" fill="#444"/>
<rect x="790.40" y="101.8" width="3.0" height="23.4" fill="#0c0c0c" stroke="#0c0c0c" stroke-width="0.2"/>
<rect x="795.14" y="107.4" width="1.1" height="23.6" fill="#4a4e5a"/>
<rect x="794.29" y="122.2" width="2.8" height="3.0" fill="#1a4198" stroke="#0f2766" stroke-width="0.8"/>
<rect x="798.94" y="97.5" width="1.1" height="28.6" fill="#444"/>
<rect x="797.99" y="121.2" width="3.0" height="2.0" fill="#0c0c0c" stroke="#0c0c0c" stroke-width="0.2"/>
<rect x="802.74" y="117.2" width="1.1" height="22.3" fill="#444"/>
<rect x="801.79" y="121.2" width="3.0" height="11.9" fill="#0c0c0c" stroke="#0c0c0c" stroke-width="0.2"/>
<rect x="806.54" y="123.2" width="1.1" height="14.3" fill="#4a4e5a"/>
<rect x="805.69" y="124.8" width="2.8" height="8.3" fill="#1a4198" stroke="#0f2766" stroke-width="0.8"/>
<rect x="810.33" y="108.3" width="1.1" height="20.5" fill="#4a4e5a"/>
<rect x="809.48" y="111.7" width="2.8" height="16.4" fill="#1a4198" stroke="#0f2766" stroke-width="0.8"/>
<rect x="814.13" y="76.7" width="1.1" height="73.1" fill="#444"/>
<rect x="813.18" y="112.3" width="3.0" height="18.4" fill="#0c0c0c" stroke="#0c0c0c" stroke-width="0.2"/>
<rect x="817.93" y="127.1" width="1.1" height="35.5" fill="#444"/>
<rect x="816.98" y="130.1" width="3.0" height="4.6" fill="#0c0c0c" stroke="#0c0c0c" stroke-width="0.2"/>
<rect x="821.72" y="90.5" width="1.1" height="45.1" fill="#4a4e5a"/>
<rect x="820.87" y="95.9" width="2.8" height="39.1" fill="#1a4198" stroke="#0f2766" stroke-width="0.8"/>
<rect x="825.52" y="81.6" width="1.1" height="44.5" fill="#444"/>
<rect x="824.57" y="95.9" width="3.0" height="23.3" fill="#0c0c0c" stroke="#0c0c0c" stroke-width="0.2"/>
<rect x="829.32" y="106.4" width="1.1" height="18.8" fill="#4a4e5a"/>
<rect x="828.47" y="110.9" width="2.8" height="8.3" fill="#1a4198" stroke="#0f2766" stroke-width="0.8"/>
<rect x="833.11" y="62.9" width="1.1" height="52.4" fill="#4a4e5a"/>
<rect x="832.26" y="74.7" width="2.8" height="36.6" fill="#1a4198" stroke="#0f2766" stroke-width="0.8"/>
<rect x="836.91" y="55.9" width="1.1" height="19.5" fill="#4a4e5a"/>
<rect x="836.06" y="58.9" width="2.8" height="15.8" fill="#1a4198" stroke="#0f2766" stroke-width="0.8"/>
<rect x="840.71" y="52.0" width="1.1" height="46.5" fill="#444"/>
<rect x="839.76" y="59.5" width="3.0" height="24.1" fill="#0c0c0c" stroke="#0c0c0c" stroke-width="0.2"/>
<rect x="844.51" y="65.8" width="1.1" height="28.7" fill="#4a4e5a"/>
<rect x="843.66" y="68.8" width="2.8" height="15.2" fill="#1a4198" stroke="#0f2766" stroke-width="0.8"/>
<rect x="848.30" y="38.4" width="1.1" height="31.6" fill="#4a4e5a"/>
<rect x="847.45" y="56.9" width="2.8" height="12.5" fill="#1a4198" stroke="#0f2766" stroke-width="0.8"/>
<rect x="852.10" y="45.4" width="1.1" height="20.1" fill="#444"/>
<rect x="851.15" y="56.9" width="3.0" height="7.9" fill="#0c0c0c" stroke="#0c0c0c" stroke-width="0.2"/>
<rect x="855.90" y="55.9" width="1.1" height="17.8" fill="#4a4e5a"/>
<rect x="855.05" y="62.6" width="2.8" height="3.0" fill="#1a4198" stroke="#0f2766" stroke-width="0.8"/>
<rect x="859.69" y="54.0" width="1.1" height="33.6" fill="#444"/>
<rect x="858.74" y="62.9" width="3.0" height="19.7" fill="#0c0c0c" stroke="#0c0c0c" stroke-width="0.2"/>
<rect x="863.49" y="76.7" width="1.1" height="26.3" fill="#444"/>
<rect x="862.54" y="82.0" width="3.0" height="11.5" fill="#0c0c0c" stroke="#0c0c0c" stroke-width="0.2"/>
<rect x="867.29" y="82.6" width="1.1" height="17.8" fill="#4a4e5a"/>
<rect x="866.44" y="89.6" width="2.8" height="3.9" fill="#1a4198" stroke="#0f2766" stroke-width="0.8"/>
<rect x="871.08" y="83.6" width="1.1" height="9.6" fill="#444"/>
<rect x="870.13" y="89.6" width="3.0" height="2.9" fill="#0c0c0c" stroke="#0c0c0c" stroke-width="0.2"/>
<rect x="874.88" y="90.8" width="1.1" height="28.0" fill="#444"/>
<rect x="873.93" y="91.5" width="3.0" height="24.8" fill="#0c0c0c" stroke="#0c0c0c" stroke-width="0.2"/>
<rect x="878.68" y="97.5" width="1.1" height="19.5" fill="#4a4e5a"/>
<rect x="877.83" y="101.0" width="2.8" height="15.3" fill="#1a4198" stroke="#0f2766" stroke-width="0.8"/>
<rect x="882.48" y="76.7" width="1.1" height="25.7" fill="#4a4e5a"/>
<rect x="881.63" y="80.1" width="2.8" height="21.7" fill="#1a4198" stroke="#0f2766" stroke-width="0.8"/>
<rect x="886.27" y="59.5" width="1.1" height="22.7" fill="#4a4e5a"/>
<rect x="885.42" y="66.8" width="2.8" height="14.8" fill="#1a4198" stroke="#0f2766" stroke-width="0.8"/>
<rect x="890.07" y="54.6" width="1.1" height="23.4" fill="#444"/>
<rect x="889.12" y="66.6" width="3.0" height="1.3" fill="#0c0c0c" stroke="#0c0c0c" stroke-width="0.2"/>
<rect x="893.87" y="61.9" width="1.1" height="38.5" fill="#444"/>
<rect x="892.92" y="67.4" width="3.0" height="25.1" fill="#0c0c0c" stroke="#0c0c0c" stroke-width="0.2"/>
<rect x="897.66" y="83.6" width="1.1" height="9.6" fill="#4a4e5a"/>
<rect x="896.81" y="86.0" width="2.8" height="6.5" fill="#1a4198" stroke="#0f2766" stroke-width="0.8"/>
<!-- lightning icon -->
<circle cx="897.8" cy="360.5" r="9.15" fill="#fff" stroke="#4f1870" stroke-width="1.6"/>
<path d="M900.9,355.6 L893.9,361.3 L897.7,361.3 L894.9,365.4 L901.6,359.7 L897.9,359.7 Z" fill="#4b1468"/>
<!-- TV logo -->
<g transform="translate(11.4,417.3) scale(0.79,0.765)" fill="#111">
<path d="M14 22H7V11H0V4h14v18zM28 22h-8l7.5-18h8L28 22z"/><circle cx="20" cy="8" r="4"/>
</g>
</svg>
<div id="title"><span style="left:0">SUI / TetherUS · 1h · Binance</span><span style="left:155.5px">O0.9873</span><span style="left:205px">H0.9910</span><span style="left:253px">L0.9872</span><span style="left:300px">C0.9899</span><span style="left:347.7px">+0.0026 (+0.26%)</span></div>
<div id="usdt">USDT</div>
<div class="pp" style="top:180.85px">0.9400</div>
<div class="pp" style="top:223.15px">0.9200</div>
<div class="pp" style="top:304.34999999999997px">0.8800</div>
<div class="pp" style="top:344.84999999999997px">0.8600</div>
<div class="pl" style="top:46px;height:17.4px;line-height:18.1px;background:#0a3d0a;color:#d9ffd9">0.9991</div>
<div class="pl" style="top:63.4px;height:14.8px;line-height:16.1px;background:#5d606b;color:#ffffff">0.9926</div>
<div class="pl" style="top:108.3px;height:16.7px;line-height:18.5px;background:#50535e;color:#ffffff">0.9891</div>
<div class="pl" style="top:125px;height:16.0px;line-height:16.9px;background:#50535e;color:#ffffff">0.9698</div>
<div class="pl" style="top:141px;height:16.0px;line-height:17.3px;background:#50535e;color:#ffffff">0.9601</div>
<div class="pl" style="top:189.2px;height:16.4px;line-height:18.3px;background:#5a5e6b;color:#ffffff">0.9362</div>
<div class="pl" style="top:205.6px;height:16.3px;line-height:18.1px;background:#5a5e6b;color:#ffffff">0.9278</div>
<div class="pl" style="top:240.5px;height:15.3px;line-height:17.7px;background:#6b6e7b;color:#ffffff">0.9112</div>
<div class="pl" style="top:255.8px;height:16.4px;line-height:20.1px;background:#7a0c12;color:#ffffff">0.9101</div>
<div class="pl" style="top:272.2px;height:16.2px;line-height:18.9px;background:#0e9a78;color:#e6fff8">0.9052</div>
<div class="pl" style="top:288.4px;height:16.3px;line-height:19.5px;background:#0e9a78;color:#e6fff8">0.8901</div>
<div id="now"><div>0.9899</div><div>46:12</div></div>
<div class="dt" style="left:54.2px">8</div>
<div class="dt" style="left:145.3px">9</div>
<div class="dt" style="left:236.39999999999998px">10</div>
<div class="dt" style="left:327.5px">11</div>
<div class="dt" style="left:418.6px">12</div>
<div class="dt" style="left:509.70000000000005px">13</div>
<div class="dt" style="left:600.8px">14</div>
<div class="dt" style="left:691.9px">15</div>
<div class="dt" style="left:783px">16</div>
<div class="dt" style="left:874px">17</div>
<div id="note">market follwing downtrend here</div>
<div id="brand">TradingView</div>
</body></html>
